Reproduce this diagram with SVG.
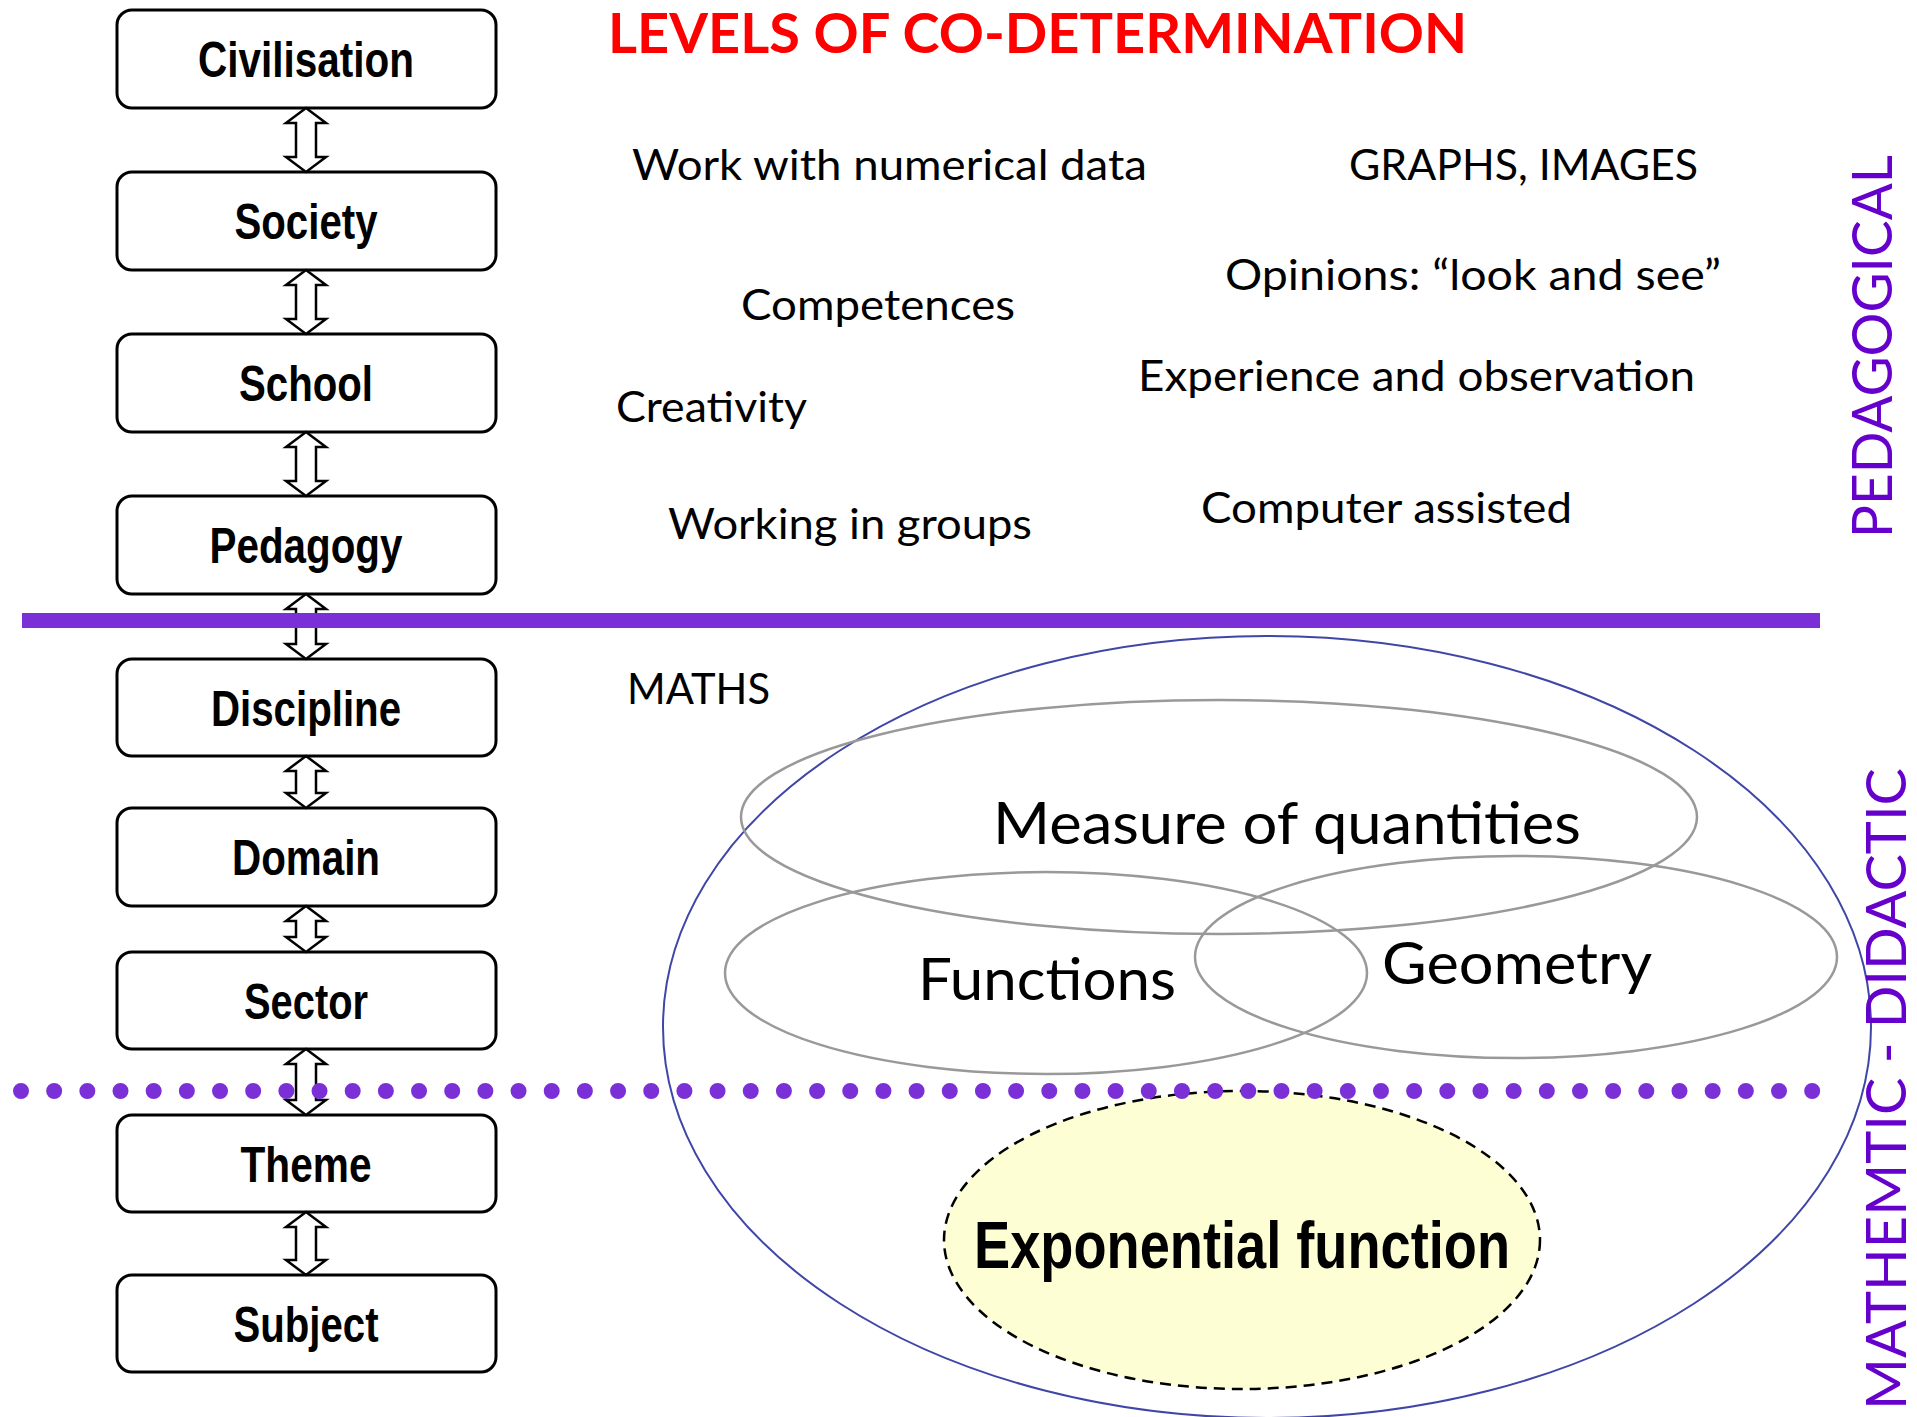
<svg xmlns="http://www.w3.org/2000/svg" width="1917" height="1417" viewBox="0 0 1917 1417">
<style>
.box{fill:#fff;stroke:#000;stroke-width:3}
.bl{font-family:"Liberation Sans Narrow","Liberation Sans",Arial,sans-serif;font-weight:bold;font-size:50px;fill:#000;text-anchor:middle}
.t{font-family:Lato,"Open Sans","Liberation Sans",sans-serif;font-size:43px;fill:#000}
.tb{font-family:Lato,"Open Sans","Liberation Sans",sans-serif;font-size:58px;fill:#000}
.side{font-family:Lato,"Open Sans","Liberation Sans",sans-serif;font-size:57px;fill:#6600CC}
.set{fill:none;stroke:#999;stroke-width:2.5}
.arr{fill:#fff;stroke:#000;stroke-width:2.5;stroke-linejoin:miter}
</style>
<rect width="1917" height="1417" fill="#fff"/>

<g id="maths-sets">
  <ellipse id="maths" cx="1267" cy="1027" rx="604" ry="391" fill="none" stroke="#4046A8" stroke-width="2"/>
  <g id="measure"><ellipse class="set" cx="1219" cy="817" rx="478" ry="117"/></g>
  <g id="functions"><ellipse class="set" cx="1046" cy="973" rx="321" ry="101"/></g>
  <g id="geometry"><ellipse class="set" cx="1516" cy="957" rx="321" ry="101"/></g>
  <text class="tb" x="993" y="844" textLength="588" lengthAdjust="spacingAndGlyphs">Measure of quantities</text>
  <text class="tb" x="918" y="1000" textLength="258" lengthAdjust="spacingAndGlyphs">Functions</text>
  <text class="tb" x="1382" y="984" textLength="270" lengthAdjust="spacingAndGlyphs">Geometry</text>
</g>

<g id="exponential">
  <ellipse cx="1242" cy="1240" rx="298" ry="149" fill="#FEFED4" stroke="#000" stroke-width="2.5" stroke-dasharray="11 7"/>
  <text class="bl" x="1242" y="1268" style="font-size:66px" textLength="536" lengthAdjust="spacingAndGlyphs">Exponential function</text>
</g>

<g id="title">
  <text x="608" y="53" font-family="Lato,'Open Sans','Liberation Sans',sans-serif" font-weight="bold" font-size="55" fill="#FF0000" textLength="859" lengthAdjust="spacingAndGlyphs">LEVELS OF CO-DETERMINATION</text>
</g>

<g id="notes">
  <text class="t" x="632" y="180" textLength="515" lengthAdjust="spacingAndGlyphs">Work with numerical data</text>
  <text class="t" x="1349" y="180" textLength="349" lengthAdjust="spacingAndGlyphs">GRAPHS, IMAGES</text>
  <text class="t" x="1225" y="290" textLength="496" lengthAdjust="spacingAndGlyphs">Opinions: “look and see”</text>
  <text class="t" x="741" y="320" textLength="274" lengthAdjust="spacingAndGlyphs">Competences</text>
  <text class="t" x="1138" y="391" textLength="557" lengthAdjust="spacingAndGlyphs">Experience and observation</text>
  <text class="t" x="616" y="422" textLength="191" lengthAdjust="spacingAndGlyphs">Creativity</text>
  <text class="t" x="1201" y="523" textLength="371" lengthAdjust="spacingAndGlyphs">Computer assisted</text>
  <text class="t" x="668" y="539" textLength="364" lengthAdjust="spacingAndGlyphs">Working in groups</text>
  <text class="t" x="627" y="704" textLength="143" lengthAdjust="spacingAndGlyphs">MATHS</text>
</g>

<g id="side-labels">
  <text class="side" transform="translate(1892,538) rotate(-90)" textLength="383" lengthAdjust="spacingAndGlyphs">PEDAGOGICAL</text>
  <text class="side" transform="translate(1906,1410) rotate(-90)" textLength="642" lengthAdjust="spacingAndGlyphs">MATHEMTIC - DIDACTIC</text>
</g>

<g id="civilisation"><rect class="box" x="117" y="10" width="379" height="98" rx="15"/><text class="bl" x="306" y="77" textLength="216" lengthAdjust="spacingAndGlyphs">Civilisation</text></g>
<g id="society"><rect class="box" x="117" y="172" width="379" height="98" rx="15"/><text class="bl" x="306" y="239" textLength="143" lengthAdjust="spacingAndGlyphs">Society</text></g>
<g id="school"><rect class="box" x="117" y="334" width="379" height="98" rx="15"/><text class="bl" x="306" y="401" textLength="134" lengthAdjust="spacingAndGlyphs">School</text></g>
<g id="pedagogy"><rect class="box" x="117" y="496" width="379" height="98" rx="15"/><text class="bl" x="306" y="563" textLength="193" lengthAdjust="spacingAndGlyphs">Pedagogy</text></g>
<g id="discipline"><rect class="box" x="117" y="659" width="379" height="97" rx="15"/><text class="bl" x="306" y="726" textLength="190" lengthAdjust="spacingAndGlyphs">Discipline</text></g>
<g id="domain"><rect class="box" x="117" y="808" width="379" height="98" rx="15"/><text class="bl" x="306" y="875" textLength="148" lengthAdjust="spacingAndGlyphs">Domain</text></g>
<g id="sector"><rect class="box" x="117" y="952" width="379" height="97" rx="15"/><text class="bl" x="306" y="1019" textLength="124" lengthAdjust="spacingAndGlyphs">Sector</text></g>
<g id="theme"><rect class="box" x="117" y="1115" width="379" height="97" rx="15"/><text class="bl" x="306" y="1182" textLength="131" lengthAdjust="spacingAndGlyphs">Theme</text></g>
<g id="subject"><rect class="box" x="117" y="1275" width="379" height="97" rx="15"/><text class="bl" x="306" y="1342" textLength="145" lengthAdjust="spacingAndGlyphs">Subject</text></g>

<g id="connectors">
  <path class="arr" d="M306,108 L326,123 L316,123 L316,157 L326,157 L306,172 L286,157 L296,157 L296,123 L286,123 Z"/>
  <path class="arr" d="M306,270 L326,285 L316,285 L316,319 L326,319 L306,334 L286,319 L296,319 L296,285 L286,285 Z"/>
  <path class="arr" d="M306,432 L326,447 L316,447 L316,481 L326,481 L306,496 L286,481 L296,481 L296,447 L286,447 Z"/>
  <path class="arr" d="M306,594 L326,609 L316,609 L316,644 L326,644 L306,659 L286,644 L296,644 L296,609 L286,609 Z"/>
  <path class="arr" d="M306,756 L326,771 L316,771 L316,793 L326,793 L306,808 L286,793 L296,793 L296,771 L286,771 Z"/>
  <path class="arr" d="M306,906 L326,921 L316,921 L316,937 L326,937 L306,952 L286,937 L296,937 L296,921 L286,921 Z"/>
  <path class="arr" d="M306,1049 L326,1064 L316,1064 L316,1100 L326,1100 L306,1115 L286,1100 L296,1100 L296,1064 L286,1064 Z"/>
  <path class="arr" d="M306,1212 L326,1227 L316,1227 L316,1260 L326,1260 L306,1275 L286,1260 L296,1260 L296,1227 L286,1227 Z"/>
</g>

<g id="dividers">
  <line x1="22" y1="620.5" x2="1820" y2="620.5" stroke="#7B2FD6" stroke-width="15"/>
  <line x1="21" y1="1091" x2="1813" y2="1091" stroke="#7B2FD6" stroke-width="16" stroke-linecap="round" stroke-dasharray="0 33.17"/>
</g>
</svg>
